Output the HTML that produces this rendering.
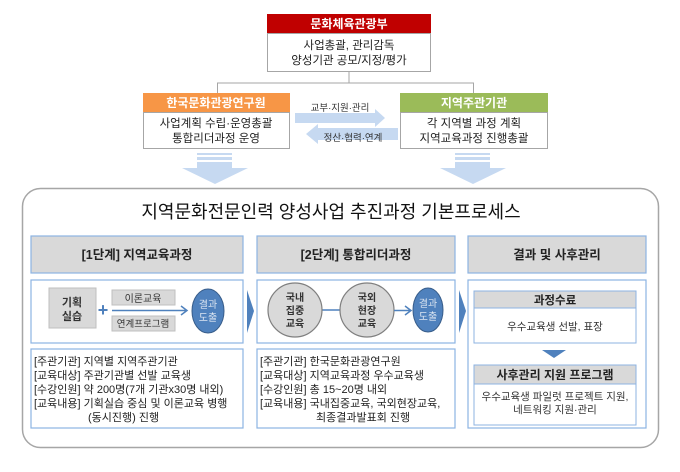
<!DOCTYPE html>
<html><head><meta charset="utf-8"><style>
body{margin:0;background:#fff;}
svg text{font-family:"Liberation Sans","Noto Sans CJK KR",sans-serif;}
</style></head><body>
<svg width="680" height="467" viewBox="0 0 680 467" xmlns="http://www.w3.org/2000/svg">
<rect x="267" y="14" width="164" height="19" fill="#c00000"/>
<text x="349" y="28" font-size="12" fill="#fff" text-anchor="middle" font-weight="bold">문화체육관광부</text>
<rect x="267.5" y="33.5" width="163" height="38" fill="#fff" stroke="#a6a6a6"/>
<text x="349" y="49" font-size="11.5" text-anchor="middle" fill="#222">사업총괄, 관리감독</text>
<text x="349" y="64" font-size="11.5" text-anchor="middle" fill="#222">양성기관 공모/지정/평가</text>
<path d="M349 72V83M217 83H474M217.5 83V93M473.5 83V93" stroke="#a6a6a6" fill="none"/>
<rect x="143" y="93" width="147" height="19" fill="#f79646"/>
<text x="216" y="107" font-size="12" fill="#fff" text-anchor="middle" font-weight="bold">한국문화관광연구원</text>
<rect x="143.5" y="112.5" width="146" height="36" fill="#fff" stroke="#a6a6a6"/>
<text x="216" y="127" font-size="11.5" text-anchor="middle" fill="#222">사업계획 수립·운영총괄</text>
<text x="216" y="142" font-size="11.5" text-anchor="middle" fill="#222">통합리더과정 운영</text>
<rect x="400" y="93" width="148" height="19" fill="#9bbb59"/>
<text x="474" y="107" font-size="12" fill="#fff" text-anchor="middle" font-weight="bold">지역주관기관</text>
<rect x="400.5" y="112.5" width="147" height="36" fill="#fff" stroke="#a6a6a6"/>
<text x="474" y="127" font-size="11.5" text-anchor="middle" fill="#222">각 지역별 과정 계획</text>
<text x="474" y="142" font-size="11.5" text-anchor="middle" fill="#222">지역교육과정 진행총괄</text>
<text x="340" y="111" font-size="9.5" text-anchor="middle" fill="#333">교부·지원·관리</text>
<path d="M295 113H375V109L385 118L375 127V123H295Z" fill="#c6d9f1"/>
<path d="M398 128H318V124L306 134L318 144V140H398Z" fill="#c6d9f1"/>
<text x="353" y="141" font-size="9.5" text-anchor="middle" fill="#333">정산·협력·연계</text>
<g fill="#c6d9f1">
<rect x="197" y="153" width="35" height="2"/><rect x="197" y="157" width="35" height="3"/><rect x="197" y="162" width="35" height="6"/>
<path d="M182 168H248L215 184Z"/>
<rect x="455" y="153" width="35" height="2"/><rect x="455" y="157" width="35" height="3"/><rect x="455" y="162" width="35" height="6"/>
<path d="M440 168H506L473 184Z"/>
</g>
<rect x="22.5" y="188.5" width="636" height="259" rx="18" fill="#fff" stroke="#a6a6a6" stroke-width="1.5"/>
<text x="331" y="218" font-size="18" text-anchor="middle" fill="#111">지역문화전문인력 양성사업 추진과정 기본프로세스</text>
<g fill="#d9d9d9" stroke="#8db3e2" stroke-width="1.2">
<rect x="31" y="236" width="212" height="37"/>
<rect x="257" y="236" width="198" height="37"/>
<rect x="468" y="236" width="178" height="37"/>
</g>
<g font-size="12.5" font-weight="bold" text-anchor="middle" fill="#222">
<text x="137" y="259">[1단계] 지역교육과정</text>
<text x="356" y="259">[2단계] 통합리더과정</text>
<text x="557" y="259">결과 및 사후관리</text>
</g>
<g fill="#fff" stroke="#8db3e2" stroke-width="1.2">
<rect x="31" y="280" width="212" height="63"/>
<rect x="257" y="280" width="198" height="63"/>
<rect x="468" y="280" width="178" height="148"/>
<rect x="31" y="349" width="212" height="79"/>
<rect x="257" y="349" width="198" height="79"/>
</g>
<path d="M247 290L254 311L247 333Z" fill="#4f81bd"/>
<path d="M459 290L466 311L459 333Z" fill="#4f81bd"/>
<rect x="49" y="288" width="47" height="40" fill="#d9d9d9" stroke="#bfbfbf"/>
<text x="72" y="306" font-size="11" text-anchor="middle" font-weight="bold" fill="#333">기획</text>
<text x="72" y="320" font-size="11" text-anchor="middle" font-weight="bold" fill="#333">실습</text>
<text x="103" y="316" font-size="18" text-anchor="middle" font-weight="bold" fill="#4f81bd">+</text>
<rect x="112" y="290" width="63" height="15" fill="#d9d9d9" stroke="#bfbfbf"/>
<text x="143" y="302" font-size="10" text-anchor="middle" fill="#333">이론교육</text>
<rect x="112" y="316" width="63" height="15" fill="#d9d9d9" stroke="#bfbfbf"/>
<text x="143" y="327" font-size="9.5" text-anchor="middle" fill="#333">연계프로그램</text>
<path d="M112 310.5H186M181 306L187 310.5L181 315" stroke="#4f81bd" stroke-width="1.5" fill="none"/>
<ellipse cx="208" cy="311" rx="16" ry="22" fill="#4f81bd" stroke="#385d8a"/>
<text x="208" y="308" font-size="10" text-anchor="middle" fill="#dbe5f1">결과</text>
<text x="208" y="321" font-size="10" text-anchor="middle" fill="#dbe5f1">도출</text>
<path d="M322 310H340" stroke="#4f81bd" stroke-width="1.5"/>
<circle cx="295" cy="310" r="27" fill="#d9d9d9" stroke="#7f7f7f" stroke-width="1.2"/>
<circle cx="367" cy="310" r="27" fill="#d9d9d9" stroke="#7f7f7f" stroke-width="1.2"/>
<g font-size="10" text-anchor="middle" font-weight="bold" fill="#333">
<text x="295" y="301">국내</text><text x="295" y="314">집중</text><text x="295" y="327">교육</text>
<text x="367" y="301">국외</text><text x="367" y="314">현장</text><text x="367" y="327">교육</text>
</g>
<path d="M394 310.5H410M405 306L411 310.5L405 315" stroke="#4f81bd" stroke-width="1.5" fill="none"/>
<ellipse cx="428" cy="310" rx="15" ry="22" fill="#4f81bd" stroke="#385d8a"/>
<text x="428" y="307" font-size="10" text-anchor="middle" fill="#dbe5f1">결과</text>
<text x="428" y="320" font-size="10" text-anchor="middle" fill="#dbe5f1">도출</text>
<rect x="474" y="291" width="162" height="17" fill="#d9d9d9" stroke="#8db3e2"/>
<text x="555" y="304" font-size="11.5" font-weight="bold" text-anchor="middle" fill="#222">과정수료</text>
<rect x="474" y="308" width="162" height="35" fill="#fff" stroke="#8db3e2"/>
<text x="555" y="330" font-size="10.5" text-anchor="middle" fill="#333">우수교육생 선발, 표장</text>
<path d="M542 350H566L554 358Z" fill="#4f81bd"/>
<rect x="474" y="365" width="162" height="19" fill="#d9d9d9" stroke="#8db3e2"/>
<text x="555" y="379" font-size="12" font-weight="bold" text-anchor="middle" fill="#222">사후관리 지원 프로그램</text>
<rect x="474" y="384" width="162" height="41" fill="#fff" stroke="#8db3e2"/>
<text x="555" y="400" font-size="10.5" text-anchor="middle" fill="#333">우수교육생 파일럿 프로젝트 지원,</text>
<text x="555" y="413" font-size="10.5" text-anchor="middle" fill="#333">네트워킹 지원·관리</text>
<g font-size="11" fill="#222">
<text x="34" y="365">[주관기관] 지역별 지역주관기관</text>
<text x="34" y="379">[교육대상] 주관기관별 선발 교육생</text>
<text x="34" y="393">[수강인원] 약 200명(7개 기관x30명 내외)</text>
<text x="34" y="407">[교육내용] 기획실습 중심 및 이론교육 병행</text>
<text x="88" y="421">(동시진행) 진행</text>
<text x="260" y="365">[주관기관] 한국문화관광연구원</text>
<text x="260" y="379">[교육대상] 지역교육과정 우수교육생</text>
<text x="260" y="393">[수강인원] 총 15~20명 내외</text>
<text x="260" y="407">[교육내용] 국내집중교육, 국외현장교육,</text>
<text x="316" y="421">최종결과발표회 진행</text>
</g>
</svg>
</body></html>
